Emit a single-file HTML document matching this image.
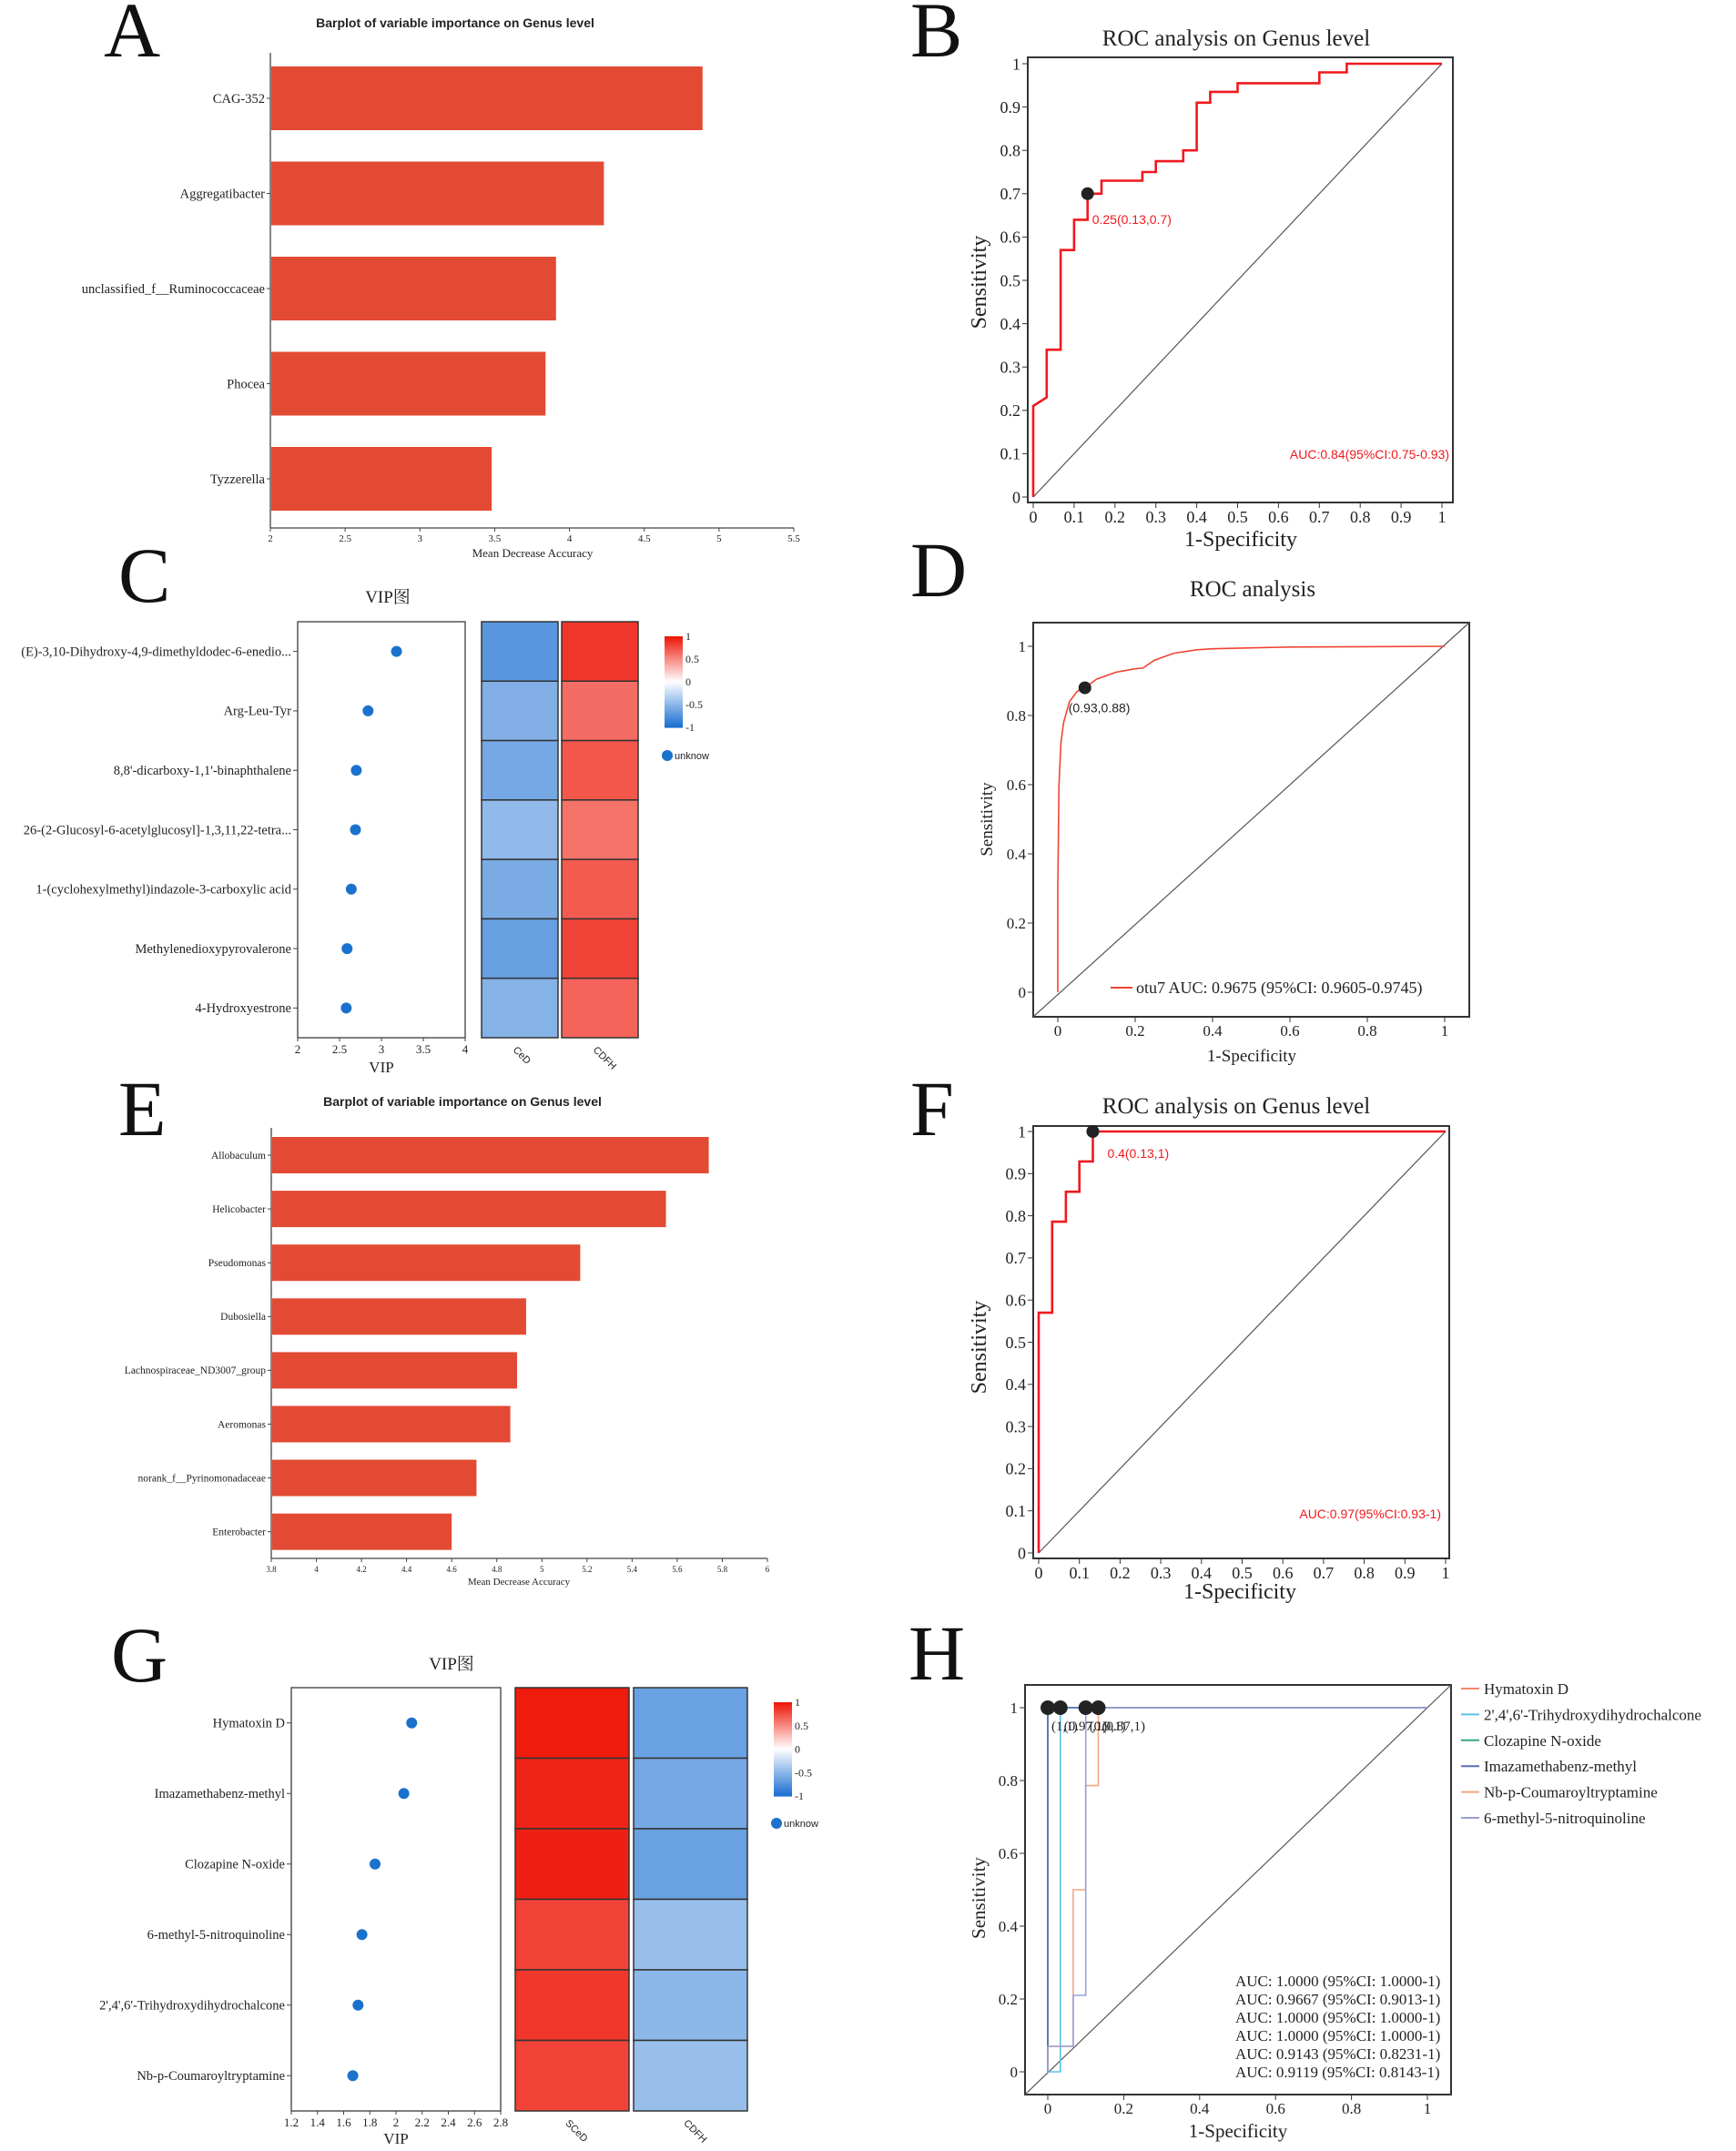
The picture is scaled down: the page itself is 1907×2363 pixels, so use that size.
<!DOCTYPE html>
<html><head><meta charset="utf-8"><title>Figure panels A-H</title>
<style>
html,body{margin:0;padding:0;background:#fff;}
svg{display:block;}
text{font-family:"Liberation Serif","Noto Serif CJK SC",serif;fill:#222;}
.sans{font-family:"Liberation Sans","Noto Sans CJK SC",sans-serif;}
.letter{font-size:86px;fill:#111;}
</style></head>
<body>
<svg id="fig" xmlns="http://www.w3.org/2000/svg" width="1907" height="2363" viewBox="0 0 1907 2363">
<rect x="0" y="0" width="1907" height="2363" fill="#fff"/>
<text class="letter" x="114" y="62">A</text>
<text class="letter" x="1000" y="62">B</text>
<text class="letter" x="130" y="661">C</text>
<text class="letter" x="1000" y="655">D</text>
<text class="letter" x="130" y="1247">E</text>
<text class="letter" x="1000" y="1247">F</text>
<text class="letter" x="122" y="1847">G</text>
<text class="letter" x="998" y="1845">H</text>

<text class="sans" x="500" y="30" font-size="14" font-weight="bold" text-anchor="middle">Barplot of variable importance on Genus level</text>
<text x="1358" y="50" font-size="25" text-anchor="middle">ROC analysis on Genus level</text>
<text x="426" y="662" font-size="19" text-anchor="middle">VIP图</text>
<text x="1376" y="655" font-size="25" text-anchor="middle">ROC analysis</text>
<text class="sans" x="508" y="1215" font-size="14" font-weight="bold" text-anchor="middle">Barplot of variable importance on Genus level</text>
<text x="1358" y="1223" font-size="25" text-anchor="middle">ROC analysis on Genus level</text>
<text x="496" y="1834" font-size="19" text-anchor="middle">VIP图</text>

<text x="585" y="612" font-size="13" text-anchor="middle">Mean Decrease Accuracy</text>
<text x="1363" y="600" font-size="24" text-anchor="middle">1-Specificity</text>
<text x="1083" y="310" font-size="24" text-anchor="middle" transform="rotate(-90 1083 310)">Sensitivity</text>
<text x="419" y="1178" font-size="17" text-anchor="middle">VIP</text>
<text x="1375" y="1166" font-size="19" text-anchor="middle">1-Specificity</text>
<text x="1090" y="900" font-size="19" text-anchor="middle" transform="rotate(-90 1090 900)">Sensitivity</text>
<text x="570" y="1741" font-size="11" text-anchor="middle">Mean Decrease Accuracy</text>
<text x="1362" y="1756" font-size="24" text-anchor="middle">1-Specificity</text>
<text x="1083" y="1480" font-size="24" text-anchor="middle" transform="rotate(-90 1083 1480)">Sensitivity</text>
<text x="435" y="2355" font-size="17" text-anchor="middle">VIP</text>
<text x="1360" y="2348" font-size="21" text-anchor="middle">1-Specificity</text>
<text x="1082" y="2085" font-size="21" text-anchor="middle" transform="rotate(-90 1082 2085)">Sensitivity</text>

<g id="layer"></g>
</svg>
<script>
// ---------- data ----------
const aCategories = ["CAG-352","Aggregatibacter","unclassified_f__Ruminococcaceae","Phocea","Tyzzerella"];
const aValues = [4.89, 4.23, 3.91, 3.84, 3.48];
const aTicks = [2, 2.5, 3, 3.5, 4, 4.5, 5, 5.5];

const eCategories = ["Allobaculum","Helicobacter","Pseudomonas","Dubosiella","Lachnospiraceae_ND3007_group","Aeromonas","norank_f__Pyrinomonadaceae","Enterobacter"];
const eValues = [5.74, 5.55, 5.17, 4.93, 4.89, 4.86, 4.71, 4.60];
const eTicks = [3.8, 4, 4.2, 4.4, 4.6, 4.8, 5, 5.2, 5.4, 5.6, 5.8, 6];

const bFpr = [0, 0, 0.033, 0.033, 0.067, 0.067, 0.1, 0.1, 0.133, 0.133, 0.167, 0.167, 0.267, 0.267, 0.3, 0.3, 0.367, 0.367, 0.4, 0.4, 0.433, 0.433, 0.5, 0.5, 0.7, 0.7, 0.767, 0.767, 1];
const bTpr = [0, 0.21, 0.23, 0.34, 0.34, 0.57, 0.57, 0.64, 0.64, 0.70, 0.70, 0.73, 0.73, 0.75, 0.75, 0.775, 0.775, 0.80, 0.80, 0.91, 0.91, 0.935, 0.935, 0.955, 0.955, 0.98, 0.98, 1, 1];
const rocTicks10 = [0, 0.1, 0.2, 0.3, 0.4, 0.5, 0.6, 0.7, 0.8, 0.9, 1];
const rocTickLabels10 = ["0","0.1","0.2","0.3","0.4","0.5","0.6","0.7","0.8","0.9","1"];

const dFpr = [0, 0, 0.003, 0.008, 0.015, 0.03, 0.05, 0.07, 0.1, 0.15, 0.2, 0.22, 0.25, 0.3, 0.36, 0.4, 0.6, 1];
const dTpr = [0, 0.3, 0.6, 0.72, 0.78, 0.84, 0.87, 0.88, 0.905, 0.925, 0.935, 0.937, 0.96, 0.98, 0.99, 0.993, 0.998, 1];
const rocTicks5 = [0, 0.2, 0.4, 0.6, 0.8, 1];
const rocTickLabels5 = ["0","0.2","0.4","0.6","0.8","1"];

const fFpr = [0, 0, 0.033, 0.033, 0.067, 0.067, 0.1, 0.1, 0.133, 0.133, 1];
const fTpr = [0, 0.57, 0.57, 0.786, 0.786, 0.857, 0.857, 0.929, 0.929, 1, 1];

const cCategories = ["(E)-3,10-Dihydroxy-4,9-dimethyldodec-6-enedio...","Arg-Leu-Tyr","8,8'-dicarboxy-1,1'-binaphthalene","26-(2-Glucosyl-6-acetylglucosyl]-1,3,11,22-tetra...","1-(cyclohexylmethyl)indazole-3-carboxylic acid","Methylenedioxypyrovalerone","4-Hydroxyestrone"];
const cVip = [3.18, 2.84, 2.70, 2.69, 2.64, 2.59, 2.58];
const cTicks = [2, 2.5, 3, 3.5, 4];
const cGroups = ["CeD","CDFH"];
const cHeatCeD = [-0.72, -0.55, -0.6, -0.48, -0.58, -0.66, -0.53];
const cHeatCDFH = [0.85, 0.62, 0.72, 0.6, 0.7, 0.8, 0.66];

const gCategories = ["Hymatoxin D","Imazamethabenz-methyl","Clozapine N-oxide","6-methyl-5-nitroquinoline","2',4',6'-Trihydroxydihydrochalcone","Nb-p-Coumaroyltryptamine"];
const gVip = [2.12, 2.06, 1.84, 1.74, 1.71, 1.67];
const gTicks = [1.2, 1.4, 1.6, 1.8, 2, 2.2, 2.4, 2.6, 2.8];
const gGroups = ["SCeD","CDFH"];
const gHeatSCeD = [0.97, 0.93, 0.95, 0.8, 0.85, 0.8];
const gHeatCDFH = [-0.65, -0.6, -0.65, -0.45, -0.5, -0.45];

const hSeries = ["Hymatoxin D","2',4',6'-Trihydroxydihydrochalcone","Clozapine N-oxide","Imazamethabenz-methyl","Nb-p-Coumaroyltryptamine","6-methyl-5-nitroquinoline"];
const hAuc = ["AUC: 1.0000 (95%CI: 1.0000-1)","AUC: 0.9667 (95%CI: 0.9013-1)","AUC: 1.0000 (95%CI: 1.0000-1)","AUC: 1.0000 (95%CI: 1.0000-1)","AUC: 0.9143 (95%CI: 0.8231-1)","AUC: 0.9119 (95%CI: 0.8143-1)"];
const hFpr1 = [0, 0, 1];
const hTpr1 = [0, 1, 1];
const hFpr2 = [0, 0.033, 0.033, 1];
const hTpr2 = [0, 0, 1, 1];
const hFpr3 = [0, 0, 1];
const hTpr3 = [0, 1, 1];
const hFpr4 = [0, 0, 1];
const hTpr4 = [0, 1, 1];
const hFpr5 = [0, 0, 0.067, 0.067, 0.1, 0.1, 0.133, 0.133, 1];
const hTpr5 = [0, 0.07, 0.07, 0.5, 0.5, 0.786, 0.786, 1, 1];
const hFpr6 = [0, 0, 0.067, 0.067, 0.1, 0.1, 1];
const hTpr6 = [0, 0.07, 0.07, 0.21, 0.21, 1, 1];
const hCutX = [0, 0.033, 0.1, 0.133];
const hCutY = [1, 1, 1, 1];
const hCutLabels = ["(1,1)","(0.97,1)","(0.9,1)","(0.87,1)"];

// ---------- helpers ----------
const NS = "http://www.w3.org/2000/svg";
const layer = document.getElementById("layer");
function mk(tag, attrs, txt) {
  const el = document.createElementNS(NS, tag);
  for (const k in attrs) el.setAttribute(k, attrs[k]);
  if (txt !== undefined) el.textContent = txt;
  layer.appendChild(el);
  return el;
}
function lin(d0, d1, r0, r1) { return v => r0 + (v - d0) / (d1 - d0) * (r1 - r0); }
function heatColor(v) {
  let r, g, b;
  if (v >= 0) { r = 255 - 17 * v; g = 255 - 235 * v; b = 255 - 250 * v; }
  else { const t = -v; r = 255 - 230 * t; g = 255 - 145 * t; b = 255 - 45 * t; }
  return `rgb(${Math.round(r)},${Math.round(g)},${Math.round(b)})`;
}

// ---------- horizontal bar charts ----------
function barChart(p, cats, vals, ticks, fs, tfs) {
  const x = lin(ticks[0], ticks[ticks.length - 1], p.x0, p.x1);
  let el = mk("line", {x1: p.x0, y1: p.top, x2: p.x0, y2: p.bottom, stroke: "#444", "stroke-width": 1.3});
  
  
  el = mk("line", {x1: p.x0, y1: p.bottom, x2: p.x1, y2: p.bottom, stroke: "#444", "stroke-width": 1.3});
  
  
  ticks.forEach(t => {
    const tx = x(t);
    let tk = mk("line", {x1: tx, y1: p.bottom, x2: tx, y2: p.bottom + 4, stroke: "#444"});
    
    
    tk = mk("text", {x: tx, y: p.bottom + 15, "font-size": tfs, "text-anchor": "middle"}, String(t));
    
    
  });
  cats.forEach((c, i) => {
    const cy = p.c0 + i * p.step;
    const bar = mk("rect", {x: p.x0 + 1, y: cy - p.bh / 2, width: x(vals[i]) - p.x0 - 1, height: p.bh, fill: "#e34a33"});
    
    
    const tk = mk("line", {x1: p.x0 - 4, y1: cy, x2: p.x0, y2: cy, stroke: "#444"});
    
    
    const lb = mk("text", {x: p.x0 - 6, y: cy + fs * 0.33, "font-size": fs, "text-anchor": "end"}, c);
    
    
  });
}
barChart({id: "a", x0: 297, x1: 872, top: 58, bottom: 580, c0: 108, step: 104.5, bh: 70}, aCategories, aValues, aTicks, 14.5, 11);
barChart({id: "e", x0: 298, x1: 843, top: 1239, bottom: 1712, c0: 1269, step: 59.1, bh: 40}, eCategories, eValues, eTicks, 11.5, 9);

// ---------- ROC charts ----------
function rocFrame(p, ticks, labels, tfs) {
  const x = lin(0, 1, p.x0, p.x1), y = lin(0, 1, p.y0, p.y1);
  let el = mk("rect", {x: p.L, y: p.T, width: p.R - p.L, height: p.B - p.T, fill: "none", stroke: "#333", "stroke-width": 2});
  
  
  el = mk("line", {x1: p.dx0 !== undefined ? p.dx0 : x(0), y1: p.dy0 !== undefined ? p.dy0 : y(0), x2: p.dx1 !== undefined ? p.dx1 : x(1), y2: p.dy1 !== undefined ? p.dy1 : y(1), stroke: "#555", "stroke-width": 1.2});
  
  
  ticks.forEach((t, i) => {
    let tk = mk("line", {x1: x(t), y1: p.B, x2: x(t), y2: p.B + 6, stroke: "#333"});
    
    
    tk = mk("text", {x: x(t), y: p.B + tfs + 4, "font-size": tfs, "text-anchor": "middle"}, labels[i]);
    
    
    tk = mk("line", {x1: p.L - 6, y1: y(t), x2: p.L, y2: y(t), stroke: "#333"});
    
    
    tk = mk("text", {x: p.L - 8, y: y(t) + tfs * 0.35, "font-size": tfs, "text-anchor": "end"}, labels[i]);
    
    
  });
  return {x, y};
}
function rocLine(s, fpr, tpr, color, w) {
  const pts = fpr.map((f, i) => s.x(f).toFixed(1) + "," + s.y(tpr[i]).toFixed(1)).join(" ");
  return mk("polyline", {points: pts, fill: "none", stroke: color, "stroke-width": w, "stroke-linejoin": "miter"});
}

// B
const sB = rocFrame({id: "b", L: 1129, R: 1596, T: 63, B: 552, x0: 1135, x1: 1584, y0: 546, y1: 70}, rocTicks10, rocTickLabels10, 18);
let ln = rocLine(sB, bFpr, bTpr, "#f0191e", 2.6);


let pt = mk("circle", {cx: sB.x(bFpr[9]), cy: sB.y(bTpr[9]), r: 7, fill: "#222"});


let tx = mk("text", {class: "sans", x: sB.x(bFpr[9]) + 5, y: sB.y(bTpr[9]) + 33, "font-size": 14, style: "fill:#f0191e"}, "0.25(0.13,0.7)");


tx = mk("text", {class: "sans", x: 1592, y: 504, "font-size": 14, "text-anchor": "end", style: "fill:#f0191e"}, "AUC:0.84(95%CI:0.75-0.93)");



// D
const sD = rocFrame({id: "d", L: 1135, R: 1614, T: 684, B: 1117, x0: 1162, x1: 1587, y0: 1090, y1: 710, dx0: 1135, dy0: 1117, dx1: 1614, dy1: 684}, rocTicks5, rocTickLabels5, 17);
ln = rocLine(sD, dFpr, dTpr, "#ee4433", 1.6);


pt = mk("circle", {cx: sD.x(0.07), cy: sD.y(0.88), r: 7, fill: "#222"});


tx = mk("text", {class: "sans", x: sD.x(0.07) - 18, y: sD.y(0.88) + 27, "font-size": 14}, "(0.93,0.88)");


let lg = mk("line", {x1: 1220, y1: 1085, x2: 1244, y2: 1085, stroke: "#ee4433", "stroke-width": 2});


tx = mk("text", {x: 1248, y: 1091, "font-size": 18}, "otu7 AUC: 0.9675 (95%CI: 0.9605-0.9745)");



// F
const sF = rocFrame({id: "f", L: 1135, R: 1592, T: 1237, B: 1712, x0: 1141, x1: 1588, y0: 1706, y1: 1243}, rocTicks10, rocTickLabels10, 18);
ln = rocLine(sF, fFpr, fTpr, "#f0191e", 2.6);


pt = mk("circle", {cx: sF.x(fFpr[9]), cy: sF.y(fTpr[9]), r: 7, fill: "#222"});


tx = mk("text", {class: "sans", x: sF.x(fFpr[9]) + 16, y: sF.y(fTpr[9]) + 29, "font-size": 14, style: "fill:#f0191e"}, "0.4(0.13,1)");


tx = mk("text", {class: "sans", x: 1583, y: 1668, "font-size": 14, "text-anchor": "end", style: "fill:#f0191e"}, "AUC:0.97(95%CI:0.93-1)");



// H
const sH = rocFrame({id: "h", L: 1126, R: 1594, T: 1851, B: 2301, x0: 1151, x1: 1568, y0: 2276, y1: 1876, dx0: 1126, dy0: 2301, dx1: 1594, dy1: 1851}, rocTicks5, rocTickLabels5, 17);
const hColors = ["#ef8a6c", "#5bc0e6", "#33a58a", "#5a6db5", "#f4a582", "#9aa0d4"];
const hFprs = [hFpr1, hFpr2, hFpr3, hFpr4, hFpr5, hFpr6];
const hTprs = [hTpr1, hTpr2, hTpr3, hTpr4, hTpr5, hTpr6];
[0, 2, 1, 4, 3, 5].forEach(i => {
  const l = rocLine(sH, hFprs[i], hTprs[i], hColors[i], 1.6);
  
  
});
hCutX.forEach((v, i) => {
  const c = mk("circle", {cx: sH.x(v), cy: sH.y(hCutY[i]), r: 8, fill: "#222"});
  
  
  const t = mk("text", {x: sH.x(v) + 4, y: sH.y(hCutY[i]) + 25, "font-size": 15}, hCutLabels[i]);
  
  
});
hSeries.forEach((s, i) => {
  const yy = 1855 + i * 28.4;
  const l = mk("line", {x1: 1605, y1: yy, x2: 1625, y2: yy, stroke: hColors[i], "stroke-width": 2});
  
  
  const t = mk("text", {x: 1630, y: yy + 6, "font-size": 17}, s);
  
  
  const a = mk("text", {x: 1357, y: 2182 + i * 20, "font-size": 17}, hAuc[i]);
  
  
});

// ---------- VIP dot + heatmap ----------
function vipPanel(p, cats, vip, ticks, groups, heat1, heat2, fs) {
  const x = lin(ticks[0], ticks[ticks.length - 1], p.L, p.R);
  const rowH = (p.B - p.T) / cats.length;
  let el = mk("rect", {x: p.L, y: p.T, width: p.R - p.L, height: p.B - p.T, fill: "none", stroke: "#555", "stroke-width": 1.5});
  
  
  ticks.forEach(t => {
    let tk = mk("line", {x1: x(t), y1: p.B, x2: x(t), y2: p.B + 4, stroke: "#444"});
    
    
    tk = mk("text", {x: x(t), y: p.B + 17, "font-size": 13, "text-anchor": "middle"}, String(t));
    
    
  });
  cats.forEach((c, i) => {
    const cy = p.T + rowH * (i + 0.5);
    const tk = mk("line", {x1: p.L - 5, y1: cy, x2: p.L, y2: cy, stroke: "#444"});
    
    
    const lb = mk("text", {x: p.L - 7, y: cy + fs * 0.33, "font-size": fs, "text-anchor": "end"}, c);
    
    
    const d = mk("circle", {cx: x(vip[i]), cy: cy, r: 6, fill: "#1a72cc"});
    
    
    const h1 = mk("rect", {x: p.h1x, y: p.T + rowH * i, width: p.hw, height: rowH, fill: heatColor(heat1[i]), stroke: "#333", "stroke-width": 1.5});
    
    
    const h2 = mk("rect", {x: p.h2x, y: p.T + rowH * i, width: p.hw, height: rowH, fill: heatColor(heat2[i]), stroke: "#333", "stroke-width": 1.5});
    
    
  });
  [p.h1x, p.h2x].forEach((hx, k) => {
    const t = mk("text", {class: "sans", x: hx + p.hw / 2 - 8, y: p.B + 14, "font-size": 11, transform: `rotate(45 ${hx + p.hw / 2 - 8} ${p.B + 14})`}, groups[k]);
    
    
  });
  const stops = [1, 0.5, 0, -0.5, -1];
  const n = 40, ch = (p.cbB - p.cbT) / n;
  for (let k = 0; k < n; k++) {
    const v = 1 - 2 * (k + 0.5) / n;
    const r = mk("rect", {x: p.cbx, y: p.cbT + k * ch, width: 20, height: ch + 0.6, fill: heatColor(v)});
    
    
  }
  stops.forEach(v => {
    const yy = p.cbT + (1 - v) / 2 * (p.cbB - p.cbT);
    const t = mk("text", {x: p.cbx + 23, y: yy + 4, "font-size": 12}, String(v));
    
    
  });
  const ud = mk("circle", {cx: p.cbx + 3, cy: p.uy, r: 6, fill: "#1a72cc"});
  
  
  const ut = mk("text", {class: "sans", x: p.cbx + 11, y: p.uy + 4, "font-size": 11}, "unknow");
  
  
}
vipPanel({id: "c", L: 327, R: 511, T: 683, B: 1140, h1x: 529, h2x: 617, hw: 84, cbx: 730, cbT: 699, cbB: 799, uy: 830}, cCategories, cVip, cTicks, cGroups, cHeatCeD, cHeatCDFH, 14.5);
vipPanel({id: "g", L: 320, R: 550, T: 1854, B: 2319, h1x: 566, h2x: 696, hw: 125, cbx: 850, cbT: 1870, cbB: 1973, uy: 2003}, gCategories, gVip, gTicks, gGroups, gHeatSCeD, gHeatCDFH, 14.5);
</script>
</body></html>
